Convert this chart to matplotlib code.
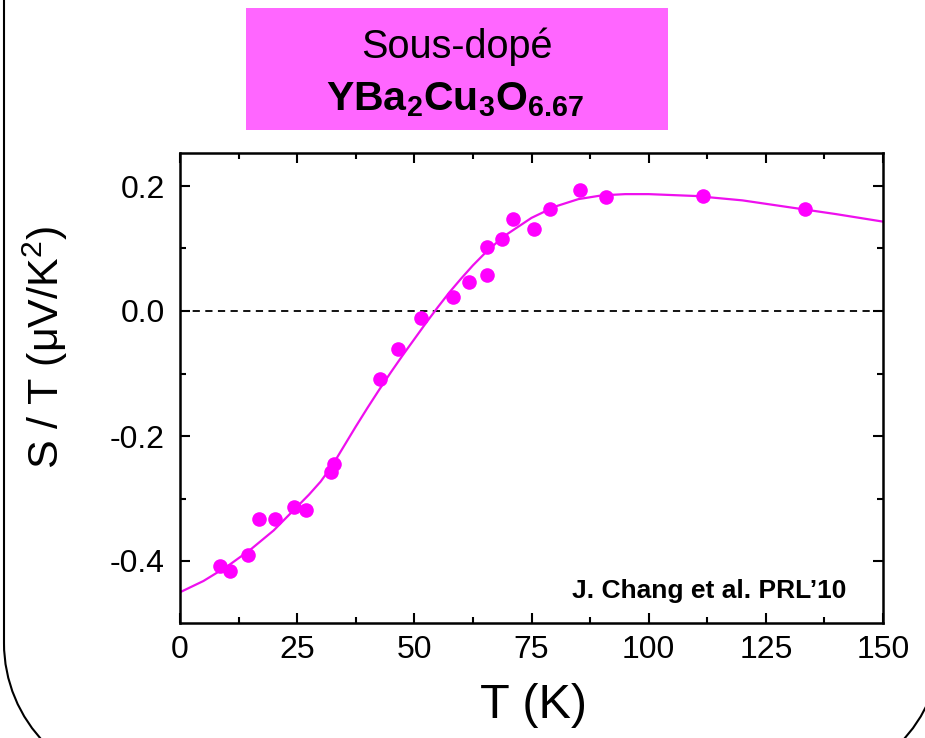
import matplotlib
matplotlib.use("Agg")
import matplotlib.pyplot as plt
from matplotlib.patches import Arc, Rectangle
from matplotlib.ticker import MultipleLocator

plt.rcParams['font.family'] = ['Liberation Sans', 'DejaVu Sans']
plt.rcParams['mathtext.fontset'] = 'custom'
plt.rcParams['mathtext.rm'] = 'Liberation Sans'
plt.rcParams['mathtext.bf'] = 'Liberation Sans:bold'
plt.rcParams['mathtext.it'] = 'Liberation Sans:italic'
plt.rcParams['mathtext.default'] = 'regular'

# measured points
T_data = [8.5, 10.7, 14.5, 16.9, 20.2, 24.3, 26.9, 32.2, 32.9, 42.7, 46.6, 51.4,
          58.2, 61.7, 65.4, 65.4, 68.8, 71.0, 75.6, 78.9, 85.3, 90.9, 111.5, 133.4]
S_data = [-0.408, -0.416, -0.390, -0.333, -0.332, -0.314, -0.319, -0.258, -0.245,
          -0.109, -0.060, -0.011, 0.023, 0.046, 0.058, 0.103, 0.115, 0.147, 0.131,
          0.164, 0.193, 0.183, 0.184, 0.164]

# fitted curve
T_fit = [0, 5, 10, 15, 20, 25, 27.5, 30, 32.5, 35, 37.5, 40, 42.5, 45, 47.5, 50,
         52.5, 55, 57.5, 60, 62.5, 65, 67.5, 70, 75, 80, 85, 90, 95, 100, 110, 120,
         130, 140, 150]
S_fit = [-0.450, -0.432, -0.409, -0.382, -0.351, -0.313, -0.294, -0.273, -0.247,
         -0.216, -0.185, -0.155, -0.126, -0.098, -0.071, -0.045, -0.019, 0.006,
         0.030, 0.052, 0.073, 0.092, 0.109, 0.124, 0.149, 0.167, 0.179, 0.185,
         0.187, 0.187, 0.184, 0.177, 0.166, 0.155, 0.143]

xticks = [0, 25, 50, 75, 100, 125, 150]
yticks = [-0.4, -0.2, 0.0, 0.2]
ytick_labels = ['-0.4', '-0.2', '0.0', '0.2']

W, H = 925, 738
fig = plt.figure(figsize=(W / 100, H / 100), dpi=100)

# background overlay in pixel coords (y up)
bg = fig.add_axes([0, 0, 1, 1], zorder=0)
bg.set_xlim(0, W)
bg.set_ylim(0, H)
bg.axis('off')
R = 143
bg.plot([4, 4], [H + 5, 95], color='black', linewidth=1.5, clip_on=False,
        solid_capstyle='butt')
bg.add_patch(Arc((4 + R, 95), 2 * R, 2 * R, theta1=180, theta2=270,
                 color='black', linewidth=1.5, clip_on=False))
bg.add_patch(Arc((941 - R, 95), 2 * R, 2 * R, theta1=270, theta2=360,
                 color='black', linewidth=1.5, clip_on=False))
bg.add_patch(Rectangle((246, H - 130), 668 - 246, 122, facecolor='#ff66ff',
                       edgecolor='none'))
bg.text(457, H - 58, 'Sous-dopé', ha='center', va='baseline', fontsize=28.5)
bg.text(455, H - 110, r'$\mathbf{YBa_2Cu_3O_{6.67}}$', ha='center', va='baseline',
        fontsize=29.5)

ax = fig.add_axes([180 / W, 1 - 623 / H, (883 - 180) / W, (623 - 153) / H], zorder=1)
ax.plot(T_fit, S_fit, color='#ee10ee', linewidth=1.6, zorder=2)
ax.plot(T_data, S_data, 'o', color='#ff00ff', markersize=10.5, markeredgewidth=0,
        zorder=3)
ax.axhline(0, color='black', linestyle=(0, (4, 3)), linewidth=1.3, zorder=1)

ax.set_xlim(0, 150)
ax.set_ylim(-0.4992, 0.2528)
ax.set_xticks(xticks)
ax.set_xticklabels([str(t) for t in xticks])
ax.set_yticks(yticks)
ax.set_yticklabels(ytick_labels)
ax.xaxis.set_minor_locator(MultipleLocator(12.5))
ax.yaxis.set_minor_locator(MultipleLocator(0.1))
ax.tick_params(which='both', direction='in', top=True, right=True, width=1.5)
ax.tick_params(which='major', length=7, labelsize=23)
ax.tick_params(which='minor', length=4)
ax.tick_params(axis='x', which='major', pad=9)
ax.tick_params(axis='y', which='major', pad=11)
for s in ax.spines.values():
    s.set_linewidth(1.8)

ax.text(0.948, 0.068, 'J. Chang et al. PRL’10', transform=ax.transAxes, ha='right',
        va='center', fontsize=19, fontweight='bold')

fig.text(533 / W, 1 - 706 / H, 'T (K)', ha='center', va='center', fontsize=35)
fig.text(45 / W, 1 - 347 / H, 'S / T (μV/K$^2$)', ha='center', va='center',
         fontsize=31, rotation=90)

fig.savefig('out.png', dpi=100)
